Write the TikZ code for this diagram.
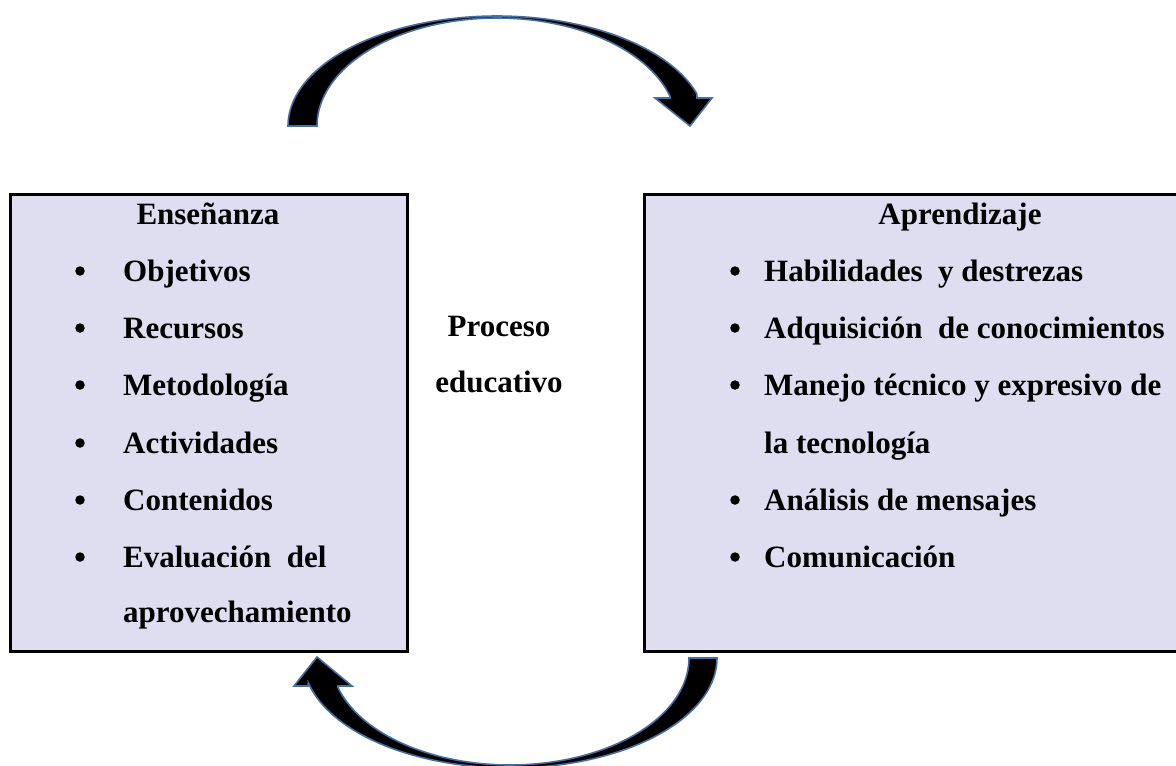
\documentclass[tikz,border=0pt]{standalone}
\usepackage{fontspec}
\setmainfont{Liberation Serif}
\definecolor{boxfill}{RGB}{223,221,240}
\definecolor{arrowedge}{RGB}{70,110,160}
\begin{document}
\begin{tikzpicture}[x=1pt,y=-1pt,
  panel/.style={draw=black, line width=2.5pt, fill=boxfill, inner sep=0pt, anchor=north west},
  txt/.style={font=\fontsize{31}{36}\selectfont\bfseries, inner sep=0pt, anchor=base west},
  ttl/.style={font=\fontsize{31}{36}\selectfont\bfseries, inner sep=0pt, anchor=base},
  bul/.style={circle, fill=black, inner sep=0pt, minimum size=9.5pt},
  blockarrow/.style={fill=black, draw=arrowedge, line width=1.6pt, line join=miter}]
\useasboundingbox (0,0) rectangle (1176,766);

% boxes
\node[panel, minimum width=397pt, minimum height=457pt] (ens) at (9,193) {};
\node[panel, minimum width=560pt, minimum height=457pt] (apr) at (643,193) {};

% top curved arrow
\draw[blockarrow] plot[domain=180:17, samples=80] ({497+209*cos(\x)},{126-110*sin(\x)})
  -- (697,98) -- (712,98) -- (690,126) -- (655,98) -- (670,98)
  -- plot[domain=16:180, samples=80] ({497+180*cos(\x)},{126-108*sin(\x)}) -- cycle;

% bottom curved arrow
\draw[blockarrow] plot[domain=0:-167, samples=80] ({510+207*cos(\x)},{658-110*sin(\x)})
  -- (308,686) -- (294,686) -- (317,657) -- (352,686) -- (338,686)
  -- plot[domain=-164:0, samples=80] ({510+179*cos(\x)},{658-107*sin(\x)}) -- cycle;

% left box text
\node[ttl] (ensT) at (208,224) {Enseñanza};
\foreach \i/\y/\t in {1/281/Objetivos, 2/338/Recursos, 3/395/Metodología, 4/453/Actividades, 5/510/Contenidos, 6/567/Evaluación\ \ del}{
  \node[bul] (eb\i) at (80,\y-10) {};
  \node[txt] (et\i) at (123,\y) {\t};
}
\node[txt] (et7) at (123,622) {aprovechamiento};

% middle text
\node[ttl] (proc1) at (499,336) {Proceso};
\node[ttl] (proc2) at (499,392) {educativo};

% right box text
\node[ttl] (aprT) at (960,224) {Aprendizaje};
\foreach \i/\y/\t in {1/281/Habilidades\ \ y destrezas, 2/338/Adquisición\ \ de conocimientos, 3/395/Manejo técnico y expresivo de, 5/510/Análisis de mensajes, 6/567/Comunicación}{
  \node[bul] (ab\i) at (735,\y-10) {};
  \node[txt] (at\i) at (764,\y) {\t};
}
\node[txt] (at4) at (764,453) {la tecnología};
\end{tikzpicture}
\end{document}
